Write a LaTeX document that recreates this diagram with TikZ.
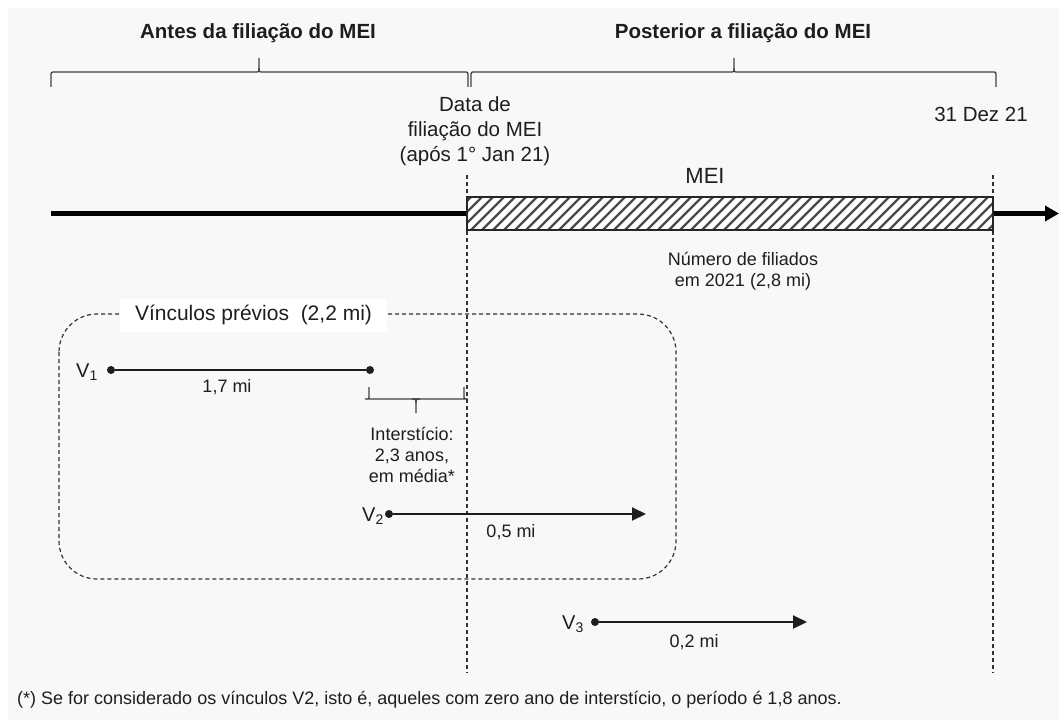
\documentclass[tikz,border=0pt]{standalone}
\usepackage{fontspec}
\setmainfont{Liberation Sans}
\usetikzlibrary{arrows.meta}
\definecolor{bgc}{HTML}{F8F8F8}
\definecolor{ink}{HTML}{1E1E1E}
\definecolor{hatchc}{HTML}{4A4A4A}
% #1 x left, #2 x right, #3 x tip, #4 y ends, #5 y straight line, #6 y tip
\newcommand{\mybrace}[6]{%
  \pgfmathsetmacro\mybrA{#5+0.3*(#4-#5)}%
  \pgfmathsetmacro\mybrB{#5+0.3*(#6-#5)}%
  \draw[bracestyle] (#1,#4) -- (#1,\mybrA) .. controls (#1,#5) .. (#1+4,#5)
     -- (#3-4,#5) .. controls (#3,#5) .. (#3,\mybrB) -- (#3,#6);
  \draw[bracestyle] (#3,\mybrB) .. controls (#3,#5) .. (#3+4,#5)
     -- (#2-4,#5) .. controls (#2,#5) .. (#2,\mybrA) -- (#2,#4);
}
\begin{document}
\begin{tikzpicture}[x=1pt,y=-1pt,
  every node/.style={text=ink, inner sep=0pt},
  titlef/.style={font=\fontsize{20.5}{25}\selectfont\bfseries, anchor=base},
  mainf/.style={font=\fontsize{20.5}{25}\selectfont, anchor=base, align=center},
  smallf/.style={font=\fontsize{18}{21}\selectfont, anchor=base, align=center},
  vlab/.style={font=\fontsize{20}{24}\selectfont, anchor=base east},
  bracestyle/.style={draw=black!75, line width=1.3pt},
  guide/.style={draw=black!80, line width=1.2pt, dash pattern=on 4pt off 3pt},
  dot/.style={circle, fill=ink, minimum size=8pt, inner sep=0pt},
  vline/.style={draw=ink, line width=2pt},
  varrow/.style={vline, -{Triangle[length=14pt,width=13pt]}},
  timeline/.style={draw=black, line width=4.5pt},
  meibox/.style={draw=black!85, line width=1.4pt, fill=white,
    minimum width=526pt, minimum height=33pt,
    path picture={\foreach \k in {0,...,52}
      \draw[hatchc, line width=2.2pt]
        ([xshift=\k*11pt-40pt]path picture bounding box.south west) -- ++(45pt,45pt);}},
]
\useasboundingbox (0,0) rectangle (1059,722);
\fill[bgc] (8,8) rectangle (1059,720);

% titles and braces
\node[titlef] (antes) at (258,38.5) {Antes da filiação do MEI};
\node[titlef] (post) at (743,38.5) {Posterior a filiação do MEI};
\mybrace{51}{468}{259}{87}{72}{58}
\mybrace{471}{996}{734}{87}{72}{58}

% date labels (base anchor = last line)
\node[mainf] (data) at (475,162) {Data de\\filiação do MEI\\(após 1° Jan 21)};
\node[mainf] (dez) at (981,122) {31 Dez 21};

% guide lines
\coordinate (g1t) at (467,175);
\coordinate (g1b) at (467,673);
\coordinate (g2t) at (993,175);
\coordinate (g2b) at (993,673);
\draw[guide] (g1t) -- (g1b);
\draw[guide] (g2t) -- (g2b);

% timeline
\coordinate (tl0) at (51,213.5);
\coordinate (tl1) at (1059,213.5);
\node[meibox] (mei) at (730,213.5) {};
\draw[timeline] (tl0) -- (mei.west);
\draw[timeline, -{Triangle[length=14pt,width=15pt]}] (mei.east) -- (tl1);
\node[font=\fontsize{22}{26}\selectfont, anchor=base] (meil) at (705,183) {MEI};
\node[smallf] (num) at (743,286) {Número de filiados\\em 2021 (2,8 mi)};

% previous links box
\draw[guide, rounded corners=38pt] (59,314) rectangle (676,579);
\node[fill=white, minimum width=267pt, minimum height=33pt,
      font=\fontsize{21}{25}\selectfont] (prev) at (253.5,315) {Vínculos prévios\ \ (2,2 mi)};

% V1
\node[dot] (v1a) at (111,370) {};
\node[dot] (v1b) at (370,370) {};
\draw[vline] (v1a) -- (v1b);
\node[vlab] (v1l) at (98,377) {V\textsubscript{1}};
\node[smallf] (v1m) at (227,392) {1,7 mi};

% interstice
\mybrace{464}{369}{416}{387}{399}{413}
\node[smallf] (inter) at (412,482) {Interstício:\\2,3 anos,\\em média*};

% V2
\node[dot] (v2a) at (389,514) {};
\coordinate (v2b) at (646,514);
\draw[varrow] (v2a) -- (v2b);
\node[vlab] (v2l) at (384,521) {V\textsubscript{2}};
\node[smallf] (v2m) at (511,537) {0,5 mi};

% V3
\node[dot] (v3a) at (595,622) {};
\coordinate (v3b) at (807,622);
\draw[varrow] (v3a) -- (v3b);
\node[vlab] (v3l) at (584,629) {V\textsubscript{3}};
\node[smallf] (v3m) at (694,647) {0,2 mi};

% footnote
\node[smallf, anchor=base west] (fn) at (17,704) {(*) Se for considerado os vínculos V2, isto é, aqueles com zero ano de interstício, o período é 1,8 anos.};
\end{tikzpicture}
\end{document}
